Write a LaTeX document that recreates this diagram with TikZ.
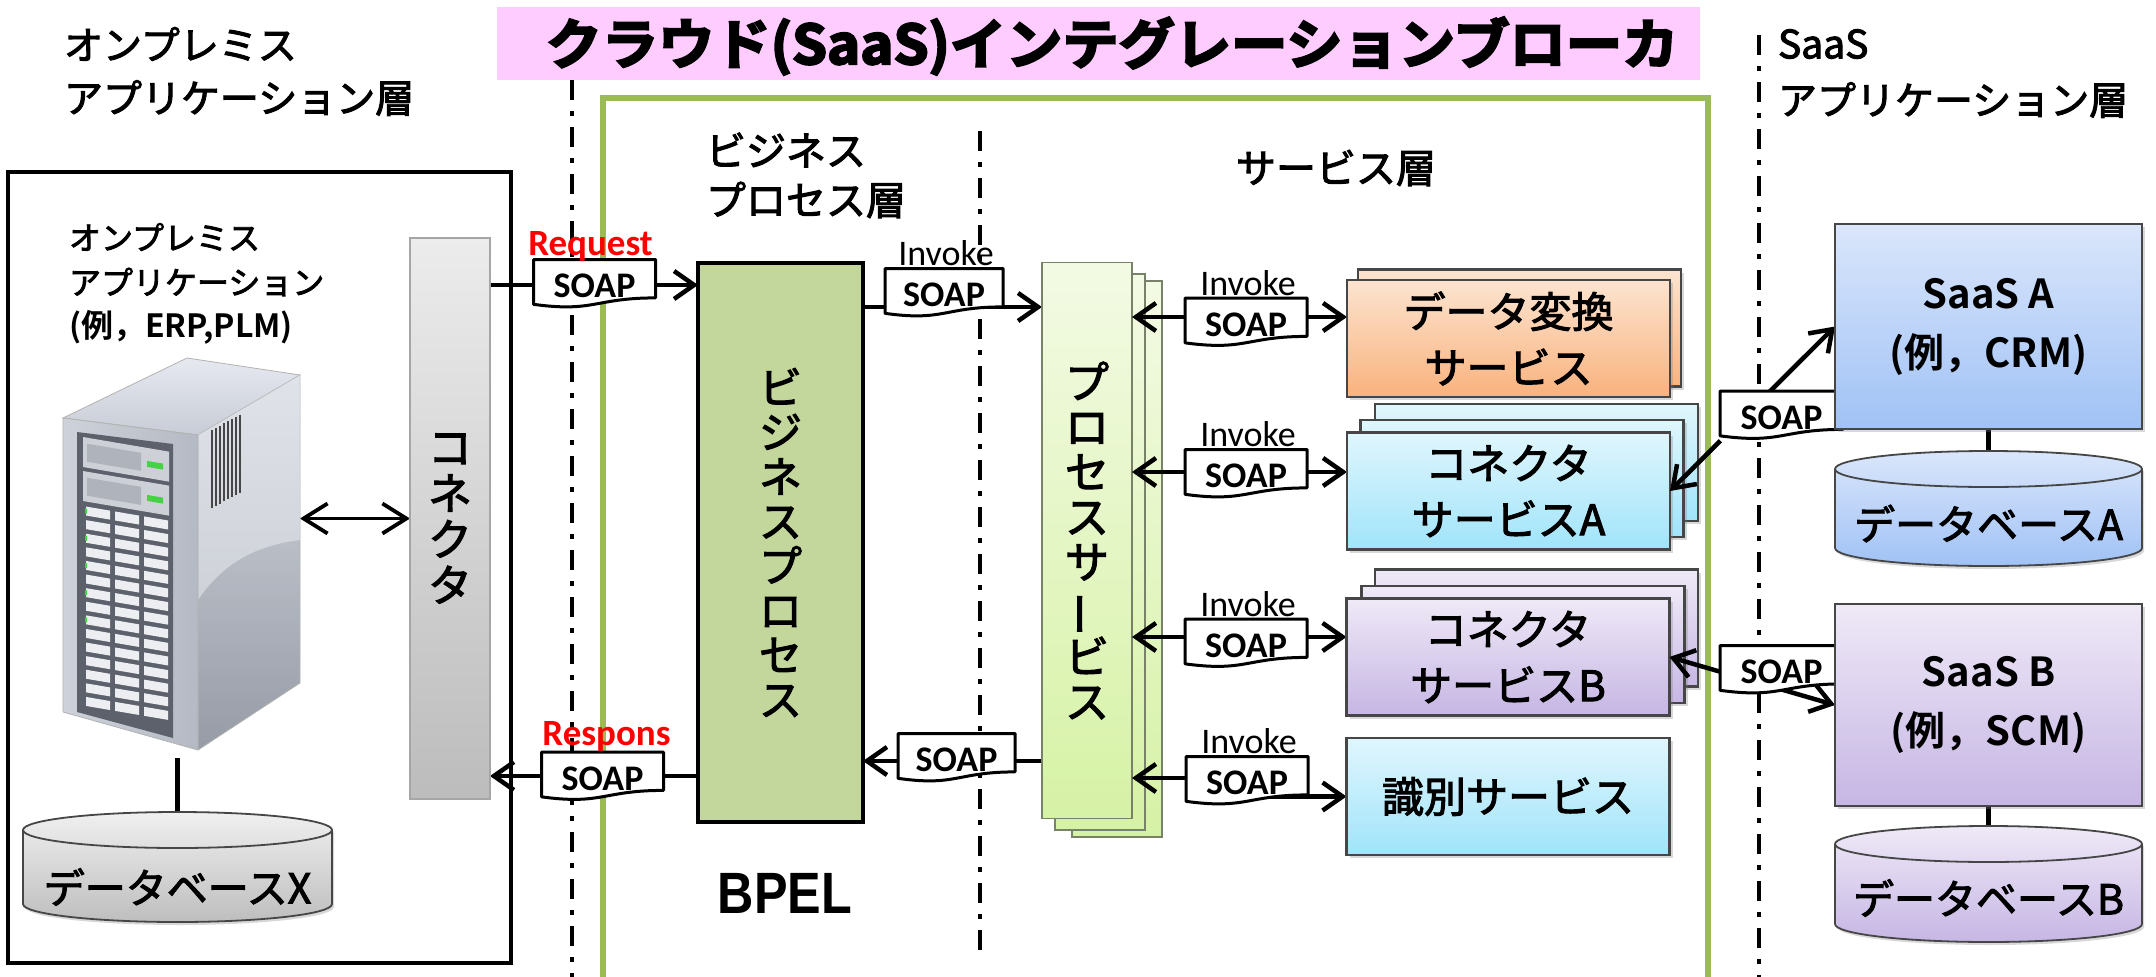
\documentclass[tikz,border=0pt]{standalone}
\usepackage{graphicx}
\usepackage{fontspec}
\setmainfont{Noto Sans CJK JP}[FakeBold=2.5]
\newfontface\jpb{Noto Sans CJK JP Bold}
\newfontface\jpblack{Noto Sans CJK JP Bold}[FakeBold=4]
\newfontfamily\latf{Carlito}
\newfontfamily\arialf{Liberation Sans}
\usetikzlibrary{arrows.meta,calc,shadows}

\pgfdeclarelayer{back}
\pgfdeclarelayer{mid}
\pgfsetlayers{back,mid,main}

\definecolor{pinkbg}{RGB}{255,204,255}
\definecolor{frameg}{RGB}{155,187,89}
\definecolor{bpelg}{RGB}{195,214,155}
\definecolor{pstop}{RGB}{243,250,228}
\definecolor{psbot}{RGB}{214,242,165}
\definecolor{psline}{RGB}{120,130,105}
\definecolor{contop}{RGB}{236,236,236}
\definecolor{conbot}{RGB}{188,188,188}
\definecolor{ortop}{RGB}{252,228,208}
\definecolor{orbot}{RGB}{249,178,125}
\definecolor{cytop}{RGB}{224,246,253}
\definecolor{cybot}{RGB}{160,228,250}
\definecolor{putop}{RGB}{239,233,247}
\definecolor{pubot}{RGB}{198,182,228}
\definecolor{bltop}{RGB}{218,230,251}
\definecolor{blbot}{RGB}{160,194,245}
\definecolor{dbtop}{RGB}{240,240,240}
\definecolor{dbbot}{RGB}{190,190,190}
\definecolor{boxline}{RGB}{70,70,70}
\definecolor{reqred}{RGB}{255,0,0}
% server tower colours
\definecolor{srvtopa}{RGB}{230,233,240}
\definecolor{srvtopb}{RGB}{200,204,214}
\definecolor{srvsidea}{RGB}{214,217,224}
\definecolor{srvsideb}{RGB}{150,155,166}
\definecolor{srvhi}{RGB}{232,235,240}
\definecolor{srvfronta}{RGB}{206,210,218}
\definecolor{srvfrontb}{RGB}{180,185,195}
\definecolor{srvpanel}{RGB}{92,97,108}
\definecolor{srvbay}{RGB}{205,208,214}
\definecolor{srvbayin}{RGB}{175,180,188}
\definecolor{srvled}{RGB}{70,210,70}
\definecolor{srvslot}{RGB}{236,238,242}

\newcommand\fs[2]{\fontsize{#1}{#2}\selectfont}

% document-shaped outline (flat top, wavy bottom) around a named node
\newcommand\docline[1]{%
  \begin{pgfonlayer}{mid}
  \path[draw=black, line width=3pt, fill=white, line join=round]
    (#1.north west) -- (#1.north east) -- ($(#1.north east)!0.80!(#1.south east)$)
    .. controls ($(#1.north)!0.80!(#1.south)$) and ($(#1.north)!1.1075!(#1.south)$)
    .. ($(#1.north west)!0.934!(#1.south west)$) -- cycle;
  \end{pgfonlayer}}

% database cylinder: name, centre x, top y, bottom y, x radius, top colour, bottom colour
\newcommand\dbcyl[7]{%
  \node[minimum width={2*#5}, minimum height={#4-#3}] (#1) at (#2,{(#3+#4)/2}) {};
  \path[draw=boxline, line width=1.8pt, top color=#6, bottom color=#7,
        drop shadow={shadow xshift=2pt,shadow yshift=-3pt,opacity=0.3}]
    (#2-#5,#3+18) -- (#2-#5,#4-18)
    arc[start angle=180,end angle=360,x radius=#5pt,y radius=18pt]
    -- (#2+#5,#3+18)
    arc[start angle=0,end angle=180,x radius=#5pt,y radius=18pt] -- cycle;
  \draw[boxline, line width=1.8pt] (#2-#5,#3+18)
    arc[start angle=180,end angle=360,x radius=#5pt,y radius=18pt];
}

\tikzset{
  every node/.style={inner sep=0pt, outer sep=0pt},
  hdr/.style={font=\fs{39}{47}, anchor=west},
  lyr/.style={font=\fs{40}{48}, anchor=west},
  soap/.style={minimum width=122pt, minimum height=48pt, text height=28pt,
               text depth=0pt, font=\latf\bfseries\fs{36}{36}},
  invk/.style={font=\latf\fs{36}{36}, anchor=base},
  rq/.style={font=\latf\bfseries\fs{37}{37}, text=reqred, anchor=base},
  tipb/.tip={Straight Barb[length=20pt,width=28pt]},
  arr/.style={line width=4.5pt, -tipb},
  plain/.style={line width=4.5pt},
  dashdot/.style={line width=4.5pt, dash pattern=on 20pt off 11pt on 5pt off 11pt},
  svc/.style 2 args={draw=boxline, line width=2.2pt, minimum width=323pt,
     minimum height=117pt, top color=#1, bottom color=#2, align=center,
     font=\fs{42}{56},
     drop shadow={shadow xshift=3pt,shadow yshift=-3pt,opacity=0.3}},
  saas/.style 2 args={draw=boxline, line width=2.2pt, minimum width=307pt,
     top color=#1, bottom color=#2, align=center, font=\jpb\fs{40}{59},
     drop shadow={shadow xshift=3pt,shadow yshift=-3pt,opacity=0.3}},
  psbox/.style={draw=psline, line width=1.5pt, minimum width=90pt,
     minimum height=556pt, top color=pstop, bottom color=psbot},
  vtxt/.style={align=center},
}

\begin{document}
\begin{tikzpicture}[x=1pt,y=-1pt]
\useasboundingbox (0,0) rectangle (2156,977);

% ---- page ground, layer separators and the broker frame
\begin{pgfonlayer}{back}
  \fill[white] (0,0) rectangle (2156,977);
  \draw[dashdot] (572,80) -- (572,977);
  \draw[dashdot] (980,131) -- (980,960);
  \draw[dashdot] (1759,35) -- (1759,977);
  \draw[frameg, line width=5.5pt] (603,977) -- (603,98) -- (1708,98) -- (1708,977);
\end{pgfonlayer}

% ---- title
\node[fill=pinkbg, minimum width=1203pt, minimum height=73pt] (ttl) at (1098.5,43.5) {};
\node (ttlt) at (1112,46) {\resizebox*{1132pt}{58pt}{\jpblack クラウド(SaaS)インテグレーションブローカ}};

% ---- headers
\node[hdr] (h1a) at (64,44) {オンプレミス};
\node[hdr] (h1b) at (64,98) {アプリケーション層};
\node[hdr] (h3a) at (1778,44) {SaaS};
\node[hdr] (h3b) at (1778,100) {アプリケーション層};
\node[lyr] (h2a) at (706,150) {ビジネス};
\node[lyr] (h2b) at (706,200) {プロセス層};
\node[lyr] (h2c) at (1236,168) {サービス層};
\node[font=\arialf\bfseries\fs{53}{60}] (bpel) at (785,893) {\scalebox{0.95}[1.1]{BPEL}};

% ---- on-premise application
\node[draw, line width=3.5pt, minimum width=503pt, minimum height=791pt] (app) at (259.5,567.5) {};
\node[anchor=west, font=\fs{32}{40}] (appa) at (69,237) {オンプレミス};
\node[anchor=west, font=\fs{32}{40}] (appb) at (69,282) {アプリケーション};
\node[anchor=west, font=\jpb\fs{32}{40}] (appc) at (69,327) {(例，ERP,PLM)};

% server tower
\node[minimum width=237pt, minimum height=400pt] (srv) at (181.5,558) {};
\path[draw=gray!60, line width=0.8pt, top color=srvtopa, bottom color=srvtopb]
  (63,418) -- (187,358) -- (300,375) -- (198,435) -- cycle;
\path[draw=gray!60, line width=0.8pt, top color=srvsidea, bottom color=srvsideb]
  (198,435) -- (300,375) -- (300,683) -- (198,750) -- cycle;
\path[fill=srvhi, opacity=0.55]
  (198,435) -- (300,375) -- (300,540) .. controls (260,545) and (225,560) .. (198,600) -- cycle;
\foreach \i in {0,...,7}
  \draw[gray!55!black, line width=1.2pt] ({212+4*\i},{430-2.2*\i}) -- ++(0,78);
\path[draw=gray!60, line width=0.8pt, left color=srvfronta, right color=srvfrontb]
  (63,418) -- (198,435) -- (198,750) -- (63,712) -- cycle;
\fill[srvpanel] (77,432) -- (173,444) -- (173,738) -- (77,712) -- cycle;
\begin{scope}[shift={(77,0)}, yslant=-0.17]
  \foreach \yy in {436,470} {
    \fill[srvbay] (6,\yy) rectangle (92,\yy+30);
    \fill[srvbayin] (10,\yy+6) rectangle (64,\yy+24);
    \fill[srvled] (70,\yy+13) rectangle (86,\yy+19);
  }
  \foreach \c in {0,1,2}
    \foreach \r in {0,...,14} {
      \fill[srvslot] ({9+\c*29},{505+\r*13.6}) rectangle ++(24,9);
    }
  \foreach \r in {0,2,4,6,8} \fill[srvled] (8,{507+\r*13.6}) rectangle ++(2,5);
\end{scope}

\node[draw=gray!70, line width=1.5pt, minimum width=80pt, minimum height=561pt,
      top color=contop, bottom color=conbot] (conn) at (450,518.5) {};
\node[vtxt, font=\fs{44}{46}] (connt) at (conn) {コ\\ネ\\ク\\タ};

\dbcyl{dbx}{177.5}{812}{922}{154.5}{dbtop}{dbbot}
\node[font=\fs{41}{48}] (dbxt) at (177.5,887) {データベースX};

% ---- business process layer
\node[draw, line width=3.5pt, fill=bpelg, minimum width=165pt, minimum height=559pt] (bp) at (780.5,542.5) {};
\node[vtxt, font=\fs{43}{44.6}] (bpt) at (bp) {ビ\\ジ\\ネ\\ス\\プ\\ロ\\セ\\ス};

% ---- process service (stacked)
\node[psbox] (ps3) at (1117,559) {};
\node[psbox] (ps2) at (1100,552) {};
\node[psbox] (ps) at (1087,540.5) {};
\node[vtxt, font=\fs{44}{45}] (pst) at (ps) {プ\\ロ\\セ\\ス\\サ\\\rotatebox[origin=c]{90}{ー}\\ビ\\ス};

% ---- services
\node[svc={ortop}{orbot}] (dc2) at (1519.5,328) {};
\node[svc={ortop}{orbot}] (dc) at (1508.5,338.5) {データ変換\\サービス};
\node[svc={cytop}{cybot}] (ca3) at (1536.5,462.5) {};
\node[svc={cytop}{cybot}] (ca2) at (1522,478.5) {};
\node[svc={cytop}{cybot}] (ca) at (1508.5,491) {コネクタ\\サービスA};
\node[svc={putop}{pubot}] (cb3) at (1536.5,628) {};
\node[svc={putop}{pubot}] (cb2) at (1523,644.5) {};
\node[svc={putop}{pubot}] (cb) at (1508,657) {コネクタ\\サービスB};
\node[svc={cytop}{cybot}] (idf) at (1508,796.5) {識別サービス};

% ---- SaaS applications
\node[saas={bltop}{blbot}, minimum height=205pt] (sa) at (1988.5,326.5) {SaaS A\\(例，CRM)};
\dbcyl{dba}{1988.5}{451}{566}{153.5}{bltop}{blbot}
\node[font=\fs{41}{48}] (dbat) at (1988.5,523.5) {データベースA};
\node[saas={putop}{pubot}, minimum height=202pt] (sb) at (1988.5,705) {SaaS B\\(例，SCM)};
\dbcyl{dbb}{1988.5}{826}{942}{153.5}{putop}{pubot}
\node[font=\fs{41}{48}] (dbbt) at (1988.5,898) {データベースB};

% ---- SOAP messages
\node[soap] (req) at (594.5,283.5) {SOAP};
\node[soap] (resp) at (602.5,776) {SOAP};
\node[soap, minimum width=118pt] (inv0) at (944,292.5) {SOAP};
\node[soap, minimum width=117pt] (ret) at (956.5,757.5) {SOAP};
\node[soap] (i1) at (1246,322) {SOAP};
\node[soap] (i2) at (1246,473.5) {SOAP};
\node[soap] (i3) at (1246,643) {SOAP};
\node[soap] (i4) at (1247,780.5) {SOAP};
\node[soap, minimum width=123pt] (sA) at (1781.5,415) {SOAP};
\node[soap, minimum width=123pt] (sB) at (1781.5,669.5) {SOAP};
\foreach \n in {req,resp,inv0,ret,i1,i2,i3,i4,sA,sB} {\docline{\n}}

\node[rq] (reqt) at ($(req.north)+(-4,-4)$) {Request};
\node[rq] (respt) at ($(resp.north)+(4,-7)$) {Respons};
\foreach \n in {inv0,i1,i2,i3,i4}
  \node[invk] (\n-lbl) at ($(\n.north)+(2,-3)$) {Invoke};

% ---- connectors
\coordinate (yreq) at (0,285);
\coordinate (yinv) at (0,307);
\coordinate (yret) at (0,761);
\coordinate (y1) at (0,317);
\coordinate (y2) at (0,472);
\coordinate (y3) at (0,637);
\coordinate (y4) at (0,778);
% message halves that run beneath the SOAP documents
\begin{pgfonlayer}{back}
  \draw[plain] (dbx.north |- srv.south) -- (dbx.north);
  \draw[plain] (sa.south) -- (dba.north);
  \draw[plain] (sb.south) -- (dbb.north);
  \draw[line width=3.8pt, {Straight Barb[length=24pt,width=30pt]}-{Straight Barb[length=24pt,width=30pt]}]
    (srv.east |- conn) -- (conn.west);
  \draw[arr] (conn.east |- yreq) -- (bp.west |- yreq);
  \draw[arr] (bp.west |- resp) -- (conn.east |- resp);
  \draw[arr] (bp.east |- yinv) -- (ps.west |- yinv);
  \draw[arr] (ps.west |- yret) -- (bp.east |- yret);
  \draw[arr] (i1 |- y1) -- (dc.west |- y1);
  \draw[arr] (i2 |- y2) -- (ca.west |- y2);
  \draw[arr] (i3 |- y3) -- (cb.west |- y3);
  \draw[arr] (i4.center) |- (idf.west);
  \draw[arr] ($(ca.east)!0.5!(sa.west)$) -- (sa.west);
  \draw[arr] ($(cb.east)!0.5!(sb.west)$) -- (sb.west);
\end{pgfonlayer}
% halves whose heads lie over the stacked boxes
\draw[arr] (i1.west |- y1) -- (ps.east |- y1);
\draw[arr] (i2.west |- y2) -- (ps.east |- y2);
\draw[arr] (i3.west |- y3) -- (ps.east |- y3);
\draw[arr] (i4.west |- y4) -- (ps.east |- y4);
\draw[arr] ($(ca.east)!0.305!(sa.west)$) -- (ca.east);
\draw[arr] ($(cb.east)!0.305!(sb.west)$) -- (cb.east);
\end{tikzpicture}
\end{document}
